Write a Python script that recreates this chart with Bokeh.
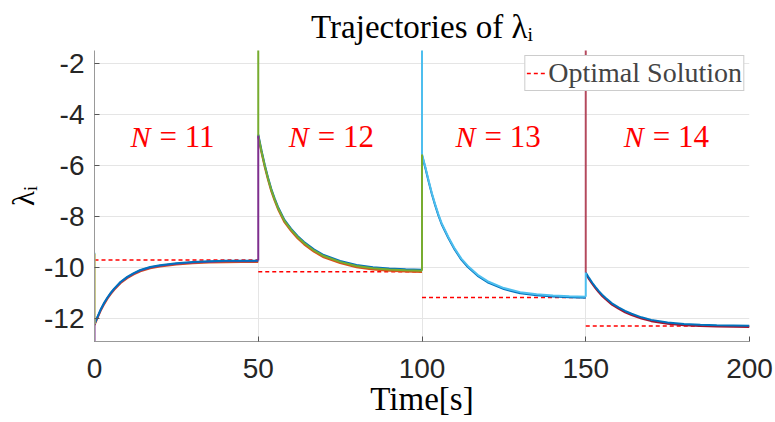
from bokeh.plotting import figure
from bokeh.models import Range1d, FixedTicker
from bokeh.embed import file_html
from bokeh.resources import INLINE
from bokeh.core.properties import value

# ---------------- data ----------------
switch_times = [0, 50, 100, 150]          # times at which a new agent joins
t_rel = [0, 1, 2, 3, 4, 5, 6, 8, 10, 12, 14, 17, 20, 25, 30, 35, 40, 45, 50]

lam_N11 = [-12.23, -11.92, -11.63, -11.39, -11.18, -11.00, -10.84, -10.57, -10.38,
           -10.23, -10.11, -9.99, -9.92, -9.84, -9.79, -9.765, -9.75, -9.745, -9.74]
lam_N12 = [-4.82, -5.45, -6.02, -6.52, -6.97, -7.33, -7.66, -8.18, -8.52,
           -8.81, -9.05, -9.34, -9.56, -9.79, -9.95, -10.04, -10.09, -10.12, -10.14]
lam_N13 = [-5.56, -6.05, -6.58, -7.08, -7.52, -7.92, -8.27, -8.80, -9.27,
           -9.66, -9.95, -10.30, -10.55, -10.82, -10.98, -11.06, -11.11, -11.14, -11.16]
lam_N14 = [-10.21, -10.42, -10.61, -10.78, -10.94, -11.08, -11.20, -11.42, -11.58,
           -11.72, -11.83, -11.97, -12.07, -12.17, -12.23, -12.26, -12.28, -12.29, -12.30]

optimal = [-9.72, -10.18, -11.19, -12.31]
n_values = [11, 12, 13, 14]

init_blue, init_yellow, init_purple = -9.43, -9.47, -13.6   # initial values at t = 0
new_agent_init = [-1.0, -1.0, -1.0]                          # new agents start above the view

x_ticks = [0, 50, 100, 150, 200]
y_ticks = [-12, -10, -8, -6, -4, -2]

# ---------------- styling ----------------
C_BLUE, C_ORANGE, C_YELLOW = "#0072BD", "#D95319", "#EDB120"
C_PURPLE, C_GREEN, C_LBLUE, C_DRED = "#7E2F8E", "#77AC30", "#4DBEEE", "#A2142F"
label_pos_t = [11, 59.3, 110.2, 161.6]
label_pos_y = -4.85

p = figure(width=775, height=422, output_backend="svg", toolbar_location=None,
           x_range=Range1d(0, 200), y_range=Range1d(-12.92, -1.48),
           min_border_left=94, min_border_right=26, min_border_top=49, min_border_bottom=81)
p.outline_line_color = None
p.background_fill_color = "white"

p.title.text = "Trajectories of λᵢ"
p.title.align = "center"
p.title.offset = -20
p.title.text_font = "Liberation Serif"
p.title.text_font_size = "33px"
p.title.text_font_style = "normal"
p.title.text_color = "#000000"
p.title.text_line_height = 0.8
p.title.standoff = 12

# optimal dashed lines
segs = [lam_N11, lam_N12, lam_N13, lam_N14]
seg_t = [[s + r for r in t_rel] for s in switch_times]
p.multi_line(xs=[[t[0], t[-1]] for t in seg_t], ys=[[o, o] for o in optimal],
             line_color="#FF0000", line_dash="4 3", line_width=1.5,
             legend_label="Optimal Solution")

# trajectories (several agents overlapping; small pixel nudges reveal colours beneath)
layers = [
    [(C_ORANGE, -0.05), (C_PURPLE, -0.02), (C_BLUE, 0.0)],
    [(C_ORANGE, -0.05), (C_BLUE, 0.04), (C_GREEN, 0.0)],
    [(C_BLUE, -0.04), (C_LBLUE, 0.0)],
    [(C_DRED, -0.05), (C_BLUE, 0.0)],
]
for t, lam, lay in zip(seg_t, segs, layers):
    for col, d in lay:
        p.line(t, [v + d for v in lam], line_color=col, line_width=2)

# jumps at t = 0
p.line([0, 0], [init_blue, lam_N11[0]], line_color=C_LBLUE, line_width=2)
p.line([0, 0], [init_yellow, lam_N11[0]], line_color=C_YELLOW, line_width=2)
p.line([0, 0], [init_purple, lam_N11[0]], line_color=C_PURPLE, line_width=2)

# jumps when agents join
old_cols = [C_PURPLE, C_GREEN, C_LBLUE]
new_cols = [C_GREEN, C_LBLUE, C_DRED]
for i in range(1, 4):
    ts = switch_times[i]
    p.line([ts, ts], [segs[i - 1][-1], segs[i][0]], line_color=old_cols[i - 1], line_width=2)
    p.line([ts, ts], [new_agent_init[i - 1], segs[i][0]], line_color=new_cols[i - 1],
           line_width=2, line_alpha=0.75 if i == 3 else 1.0)

# N labels
p.text(x=label_pos_t, y=[label_pos_y] * 4, text=["N"] * 4,
       text_font=value("Liberation Serif"), text_font_style="italic", text_font_size="30px",
       text_color="#FF0000", text_baseline="middle", text_align="left")
p.text(x=label_pos_t, y=[label_pos_y] * 4, text=["= %d" % n for n in n_values],
       x_offset=29, text_font=value("Liberation Serif"), text_font_size="31px",
       text_color="#FF0000", text_baseline="middle", text_align="left")

# axes
p.xaxis.ticker = FixedTicker(ticks=x_ticks)
p.yaxis.ticker = FixedTicker(ticks=y_ticks)
p.xaxis.major_label_overrides = {v: str(v) for v in x_ticks}
p.yaxis.major_label_overrides = {v: str(v) for v in y_ticks}
for ax in (p.xaxis[0], p.yaxis[0]):
    ax.major_label_text_font = "Liberation Sans"
    ax.major_label_text_font_size = "28px"
    ax.major_label_text_color = "#262626"
    ax.major_tick_in = 5
    ax.major_tick_out = 0
    ax.minor_tick_line_color = None
    ax.major_tick_line_color = "#555555"
    ax.axis_line_color = "#999999"
    ax.axis_label_text_font = "Liberation Serif"
    ax.axis_label_text_font_style = "normal"
    ax.axis_label_text_color = "#000000"
p.xaxis.major_label_standoff = 17
p.yaxis.major_label_standoff = 10
p.xaxis.axis_label = "Time[s]"
p.xaxis.axis_label_text_font_size = "33px"
p.xaxis.axis_label_standoff = 0
p.xaxis.major_label_text_line_height = 1.0
p.xaxis.axis_label_text_line_height = 1.0
p.yaxis.axis_label = "λᵢ"
p.yaxis.axis_label_text_font_size = "31px"
p.yaxis.axis_label_standoff = 0

p.grid.grid_line_color = "#e5e5e5"
p.grid.grid_line_width = 1

# legend
lg = p.legend[0]
lg.location = "top_right"
lg.margin = 5
lg.padding = 1
lg.spacing = 0
lg.glyph_width = 21
lg.glyph_height = 20
lg.label_standoff = 1
lg.label_text_font = "Liberation Serif"
lg.label_text_font_size = "28px"
lg.label_text_line_height = 1.0
lg.border_line_color = "#999999"
lg.border_line_width = 1
lg.background_fill_alpha = 1.0

open("out.html", "w").write(file_html(p, INLINE))
